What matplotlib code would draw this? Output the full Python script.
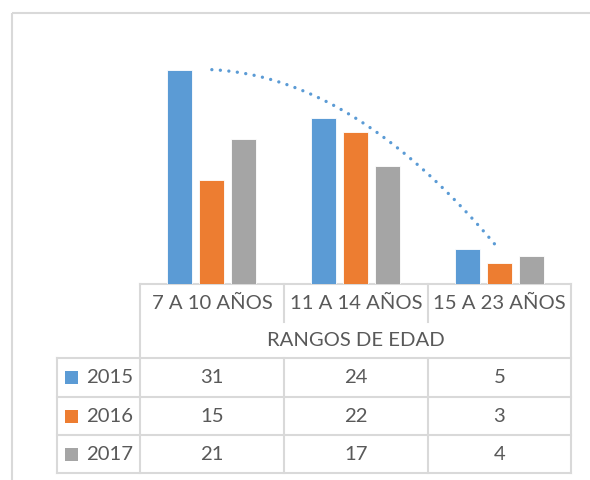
import numpy as np
import matplotlib
matplotlib.use("Agg")
import matplotlib.pyplot as plt
from matplotlib.lines import Line2D
from matplotlib.patches import Rectangle

categories = ["7 A 10 AÑOS", "11 A 14 AÑOS", "15 A 23 AÑOS"]
axis_title = "RANGOS DE EDAD"
series_names = ["2015", "2016", "2017"]
v2015 = [31, 24, 5]
v2016 = [15, 22, 3]
v2017 = [21, 17, 4]
values = [v2015, v2016, v2017]
colors = ["#5B9BD5", "#ED7D31", "#A5A5A5"]

W, H = 590, 480
fig = plt.figure(figsize=(W / 100, H / 100), dpi=100)
plt.rcParams['font.family'] = ['Lato', 'DejaVu Sans']
TXT = "#595959"
GRID = "#D9D9D9"
FS = 14.6

# overlay in pixel coords
ov = fig.add_axes([0, 0, 1, 1])
ov.set_xlim(0, W)
ov.set_ylim(H, 0)
ov.axis("off")

# chart border
ov.add_patch(Rectangle((12, 13), 600, 500, fill=False, edgecolor=GRID, lw=1.5))

# plot area
x0, x1 = 140, 571
ytop, ybot = 42, 284
ax = fig.add_axes([x0 / W, (H - ybot) / H, (x1 - x0) / W, (ybot - ytop) / H])
ax.set_xlim(0, 3)
ax.set_ylim(0, 35)
ax.axis("off")
centers = np.arange(len(categories)) + 0.5
bw = 25 / 143.7
off = 32 / 143.7
for i, (vals, c) in enumerate(zip(values, colors)):
    ax.bar(centers + (i - 1) * off, vals, width=bw, color=c, edgecolor="white", linewidth=0.6)

# polynomial (order 2) trendline of 2015
coef = np.polyfit(centers, v2015, 2)
xs = np.linspace(centers[0], centers[-1], 200)
ax.plot(xs, np.polyval(coef, xs), color="#5B9BD5", lw=2.4,
        linestyle=(0, (0.01, 2.55)), dash_capstyle="round")

# data table
rows = [358, 397, 435, 473]
cat_edges = [140, 284, 428, 571]
lw = 1.5
def L(xa, ya, xb, yb):
    ov.add_line(Line2D([xa, xb], [ya, yb], color=GRID, lw=lw))
L(140, 284, 571, 284)
L(140, 284, 140, 473)
L(571, 284, 571, 473)
for xe in cat_edges[1:-1]:
    L(xe, 284, xe, 322)
    L(xe, 358, xe, 473)
for yr in rows:
    L(57, yr, 571, yr)
L(57, 358, 57, 473)

for j, cat in enumerate(categories):
    cx = (cat_edges[j] + cat_edges[j + 1]) / 2
    ov.text(cx, 303, cat, ha="center", va="center", fontsize=FS, color=TXT)
ov.text((140 + 571) / 2, 340, axis_title, ha="center", va="center", fontsize=FS, color=TXT)

for i, (name, vals, c) in enumerate(zip(series_names, values, colors)):
    cy = (rows[i] + rows[i + 1]) / 2
    ov.add_patch(Rectangle((65, cy - 6.5), 13, 13, color=c, lw=0))
    ov.text(86, cy, name, ha="left", va="center", fontsize=FS, color=TXT)
    for j, v in enumerate(vals):
        cx = (cat_edges[j] + cat_edges[j + 1]) / 2
        ov.text(cx, cy, str(v), ha="center", va="center", fontsize=FS, color=TXT)

fig.savefig("out.png", dpi=100)
